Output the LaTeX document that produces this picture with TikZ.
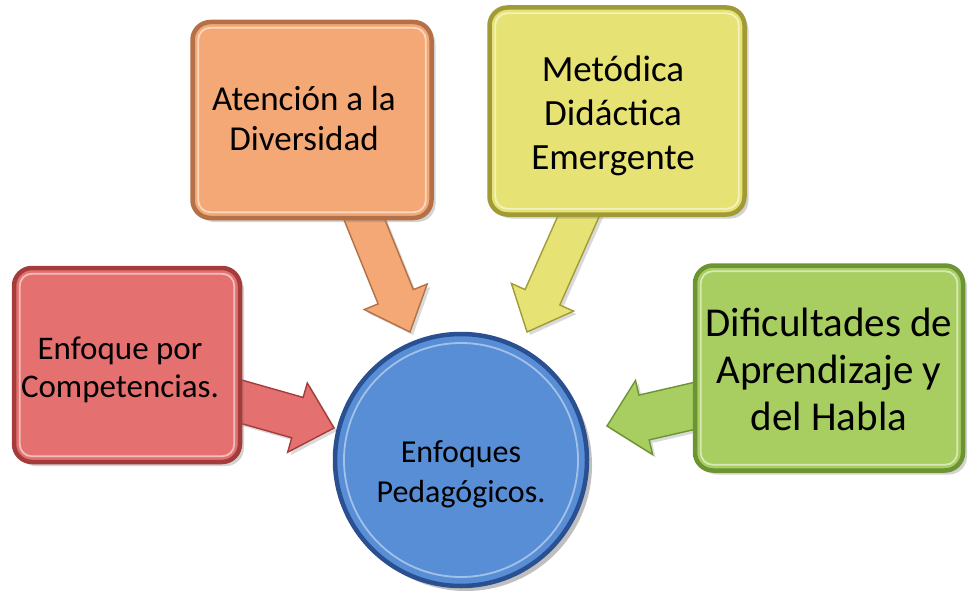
\documentclass[tikz,border=0pt]{standalone}
\usepackage{fontspec}
\setmainfont{Carlito}
\usetikzlibrary{calc,shadows}
\pgfdeclarelayer{background}
\pgfsetlayers{background,main}

\definecolor{redF}{RGB}{229,112,112}
\definecolor{redD}{RGB}{165,60,60}
\definecolor{orF}{RGB}{243,168,118}
\definecolor{orD}{RGB}{180,112,70}
\definecolor{yeF}{RGB}{230,226,115}
\definecolor{yeD}{RGB}{160,155,55}
\definecolor{grF}{RGB}{168,206,98}
\definecolor{grD}{RGB}{108,148,50}
\definecolor{blF}{RGB}{88,142,214}
\definecolor{blD}{RGB}{42,80,145}

\tikzset{
  boxbase/.style={rectangle, rounded corners=18pt, line width=4.5pt, align=center,
    inner sep=0pt, drop shadow={shadow xshift=4pt, shadow yshift=-4pt, opacity=0.35}},
  rim/.style={draw=white, opacity=0.55, line width=1.8pt, rounded corners=12pt},
  arrowbody/.style={line width=1.4pt, line join=miter,
    drop shadow={shadow xshift=3pt, shadow yshift=-3pt, opacity=0.3}},
}

% block arrow: style, start, tip, shaft half width, head half width, head length
\newcommand{\blockarr}[6]{%
  \coordinate (ba-c) at ($(#3)!#6!(#2)$);
  \path[#1] ($(#2)!#4!90:(#3)$) -- ($(ba-c)!#4!-90:(#2)$) -- ($(ba-c)!#5!-90:(#2)$)
    -- (#3) -- ($(ba-c)!#5!90:(#2)$) -- ($(ba-c)!#4!90:(#2)$) -- ($(#2)!#4!-90:(#3)$) -- cycle;
}
\newcommand{\bevelrim}[1]{%
  \draw[rim] ([shift={(8pt,-8pt)}]#1.north west) rectangle ([shift={(-8pt,8pt)}]#1.south east);
}
\newcommand{\txtblock}[3]{\hspace*{#1}\raisebox{#2}[\height][\depth]{\begin{tabular}{@{}c@{}}#3\end{tabular}}}

\begin{document}
\begin{tikzpicture}[x=1pt,y=-1pt]
\useasboundingbox (0,0) rectangle (968,604);

% boxes
\node[boxbase, fill=redF, draw=redD, minimum width=226pt, minimum height=194pt,
  font=\fontsize{33}{38}\selectfont] (red) at (127,365)
  {\txtblock{-14pt}{-6pt}{Enfoque por\\Competencias.}};
\node[boxbase, fill=orF, draw=orD, minimum width=239pt, minimum height=196pt,
  font=\fontsize{35}{40}\selectfont] (ora) at (312,120)
  {\txtblock{-16pt}{-3pt}{Atención a la\\Diversidad}};
\node[boxbase, fill=yeF, draw=yeD, minimum width=255pt, minimum height=207pt,
  font=\fontsize{37}{44}\selectfont] (yel) at (617,111)
  {\txtblock{-8pt}{-6pt}{Metódica\\Didáctica\\Emergente}};
\node[boxbase, fill=grF, draw=grD, minimum width=268pt, minimum height=205pt,
  font=\fontsize{41}{47}\selectfont] (gre) at (829,368)
  {\txtblock{0pt}{-6pt}{Dificultades de\\Aprendizaje y\\del Habla}};
\bevelrim{red}
\bevelrim{ora}
\bevelrim{yel}
\bevelrim{gre}

% centre circle
\node[circle, minimum size=252pt, fill=blF, draw=blD, line width=4.5pt, align=center,
  inner sep=0pt, font=\fontsize{32}{40}\selectfont,
  drop shadow={shadow xshift=5pt, shadow yshift=-5pt, opacity=0.5}] (ctr) at (461,460)
  {\txtblock{0pt}{-14pt}{Enfoques\\Pedagógicos.}};
\draw[draw=white, opacity=0.45, line width=1.8pt] (ctr.center) circle (117pt);

% arrow ends
\coordinate (sR) at (200,390); \coordinate (tR) at (334,428);
\coordinate (sO) at (335,147); \coordinate (tO) at (410,332);
\coordinate (sY) at (608,150); \coordinate (tY) at (527,332);
\coordinate (sG) at (720,400); \coordinate (tG) at (607,426);

\begin{pgfonlayer}{background}
  \blockarr{arrowbody, fill=redF, draw=redD}{sR}{tR}{21pt}{36pt}{38pt}
  \blockarr{arrowbody, fill=orF, draw=orD}{sO}{tO}{19pt}{34pt}{38pt}
  \blockarr{arrowbody, fill=yeF, draw=yeD}{sY}{tY}{19pt}{34pt}{38pt}
  \blockarr{arrowbody, fill=grF, draw=grD}{sG}{tG}{23pt}{38pt}{38pt}
\end{pgfonlayer}
\end{tikzpicture}
\end{document}
